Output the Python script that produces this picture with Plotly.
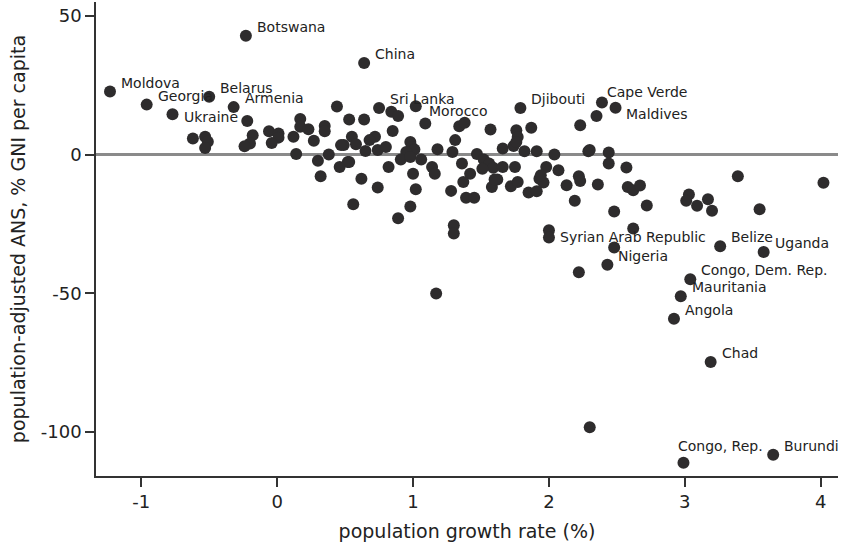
import plotly.graph_objects as go

# labelled countries: population growth rate (%) and population-adjusted ANS (% GNI per capita)
label_country = ["Botswana", "China", "Moldova", "Georgia", "Belarus", "Armenia", "Ukraine",
                 "Sri Lanka", "Morocco", "Djibouti", "Cape Verde", "Maldives",
                 "Syrian Arab Republic", "Nigeria", "Belize", "Uganda", "Congo, Dem. Rep.",
                 "Mauritania", "Angola", "Chad", "Congo, Rep.", "Burundi"]
label_growth = [-0.23, 0.64, -1.23, -0.96, -0.50, -0.32, -0.77,
                0.75, 1.02, 1.79, 2.39, 2.49,
                2.00, 2.43, 3.26, 3.58, 3.04,
                2.97, 2.92, 3.19, 2.99, 3.65]
label_ans = [42.8, 33.0, 22.7, 18.0, 20.8, 17.1, 14.5,
             16.8, 17.4, 16.8, 18.8, 16.9,
             -29.9, -39.7, -33.1, -35.1, -45.0,
             -51.1, -59.2, -74.8, -111.1, -108.2]

# other countries (unlabelled)
other_growth = [-0.22, 0.44, -0.62, -0.53, -0.51, -0.53, -0.18, -0.20, -0.24, -0.06,
                0.01, 0.01, -0.04, 0.12, 0.17, 0.17, 0.23, 0.35, 0.35, 0.27,
                0.14, 0.38, 0.30, 0.46, 0.32, 0.49, 0.52, 0.53, 0.64, 0.84,
                0.89, 0.85, 0.72, 0.68, 0.55, 0.47, 0.58, 0.65, 0.74, 0.80,
                0.98, 0.99, 1.01, 0.95, 1.18, 1.29, 1.31, 1.34, 1.38, 1.57,
                1.47, 1.66, 1.76, 1.77, 1.74, 1.87, 1.82, 1.91, 2.04, 2.23,
                2.29, 0.53, 0.62, 0.82, 0.91, 0.98, 1.00, 1.06, 1.14, 1.16,
                1.36, 1.42, 1.52, 1.56, 1.59, 1.66, 1.75, 1.98, 2.07, 2.22,
                0.74, 0.56, 0.89, 0.98, 1.02, 1.28, 1.30, 1.30, 1.37, 1.39,
                1.45, 1.17, 1.58, 1.62, 1.72, 1.77, 1.85, 1.91, 1.93, 1.96,
                2.13, 2.23, 2.19, 2.00, 2.22, 1.51, 1.09, 2.35, 2.30, 2.44,
                2.44, 2.57, 2.36, 2.58, 2.62, 2.67, 2.72, 2.48, 2.62, 3.39,
                4.02, 3.03, 3.01, 3.09, 3.17, 3.20, 3.55, 2.48, 2.30, 1.76,
                1.60, 1.94]
other_ans = [12.1, 17.3, 5.8, 6.4, 4.6, 2.4, 7.0, 4.0, 3.0, 8.4,
             7.6, 6.1, 4.2, 6.4, 12.8, 10.0, 9.1, 10.3, 8.4, 5.0,
             0.2, 0.0, -2.2, -4.5, -7.8, 3.4, -2.7, 12.6, 12.6, 15.4,
             13.9, 8.5, 6.4, 5.2, 6.4, 3.4, 3.7, 1.3, 1.6, 2.7,
             4.5, 2.7, 1.8, 0.9, 1.9, 0.9, 5.2, 10.2, 11.5, 9.0,
             0.2, 2.2, 8.8, 6.3, 3.1, 9.7, 1.2, 1.2, 0.0, 10.6,
             1.2, -2.7, -8.7, -4.5, -1.8, -0.9, -6.9, -1.8, -4.5, -6.9,
             -3.2, -6.9, -1.8, -3.2, -4.8, -4.5, -4.5, -4.5, -5.7, -7.8,
             -11.9, -17.9, -23.0, -18.7, -12.5, -13.1, -25.5, -28.5, -9.9, -15.6,
             -15.6, -50.1, -11.7, -9.0, -11.4, -9.9, -13.7, -13.2, -8.7, -10.1,
             -11.1, -9.5, -16.7, -27.3, -42.4, -5.1, 11.2, 13.9, 1.6, 0.7,
             -3.2, -4.7, -10.8, -11.7, -12.9, -11.2, -18.4, -20.5, -26.7, -7.8,
             -10.2, -14.4, -16.7, -18.5, -16.1, -20.3, -19.7, -33.5, -98.3, 4.5,
             -9.0, -7.5]

y_tickvals = [50, 0, -50, -100]
y_ticktext = ["50", "0", "-50", "-100"]
x_tickvals = [-1, 0, 1, 2, 3, 4]
x_ticktext = ["-1", "0", "1", "2", "3", "4"]

# label offsets in pixels (most labels sit to the upper right of the dot)
label_shift = {"Ukraine": (9, -3), "Morocco": (11, -5), "Cape Verde": (3, 10),
               "Maldives": (8, -6), "Syrian Arab Republic": (9, 0), "Congo, Rep.": (-7, 17)}

dot_color = "#2e2c2d"
font_name = "DejaVu Sans"

fig = go.Figure()
fig.add_trace(go.Scatter(x=other_growth + label_growth, y=other_ans + label_ans, mode="markers",
                         marker=dict(size=12, color=dot_color), showlegend=False, hoverinfo="skip"))

annotations = []
for name, gx, ay in zip(label_country, label_growth, label_ans):
    dx, dy = label_shift.get(name, (9, 9))
    annotations.append(dict(x=gx, y=ay, text=name, showarrow=False, xanchor="left", yanchor="middle",
                            xshift=dx, yshift=dy, font=dict(family=font_name, size=14, color="#222")))

fig.update_layout(
    width=841, height=548,
    margin=dict(l=96, r=3, t=2, b=72),
    plot_bgcolor="white", paper_bgcolor="white",
    font=dict(family=font_name, color="#222"),
    annotations=annotations,
    xaxis=dict(range=[-1.333, 4.127], tickvals=x_tickvals, ticktext=x_ticktext, automargin=False,
               showline=True, linecolor="#333", linewidth=1.5, ticks="outside", ticklen=9,
               tickcolor="#333", tickwidth=1.5, showgrid=False, zeroline=False,
               tickfont=dict(size=18),
               title=dict(text="population growth rate (%)", font=dict(size=19), standoff=13)),
    yaxis=dict(range=[-115.9, 55], tickvals=y_tickvals, ticktext=y_ticktext, automargin=False,
               showline=True, linecolor="#333", linewidth=1.5, ticks="outside", ticklen=9,
               tickcolor="#333", tickwidth=1.5, showgrid=False,
               zeroline=True, zerolinecolor="#8a8a8a", zerolinewidth=3,
               tickfont=dict(size=18),
               title=dict(text="population-adjusted ANS, % GNI per capita", font=dict(size=19),
                          standoff=10)),
)

fig.write_html("out.html", config={"displayModeBar": False},
               post_script="document.body.style.margin='0';")
